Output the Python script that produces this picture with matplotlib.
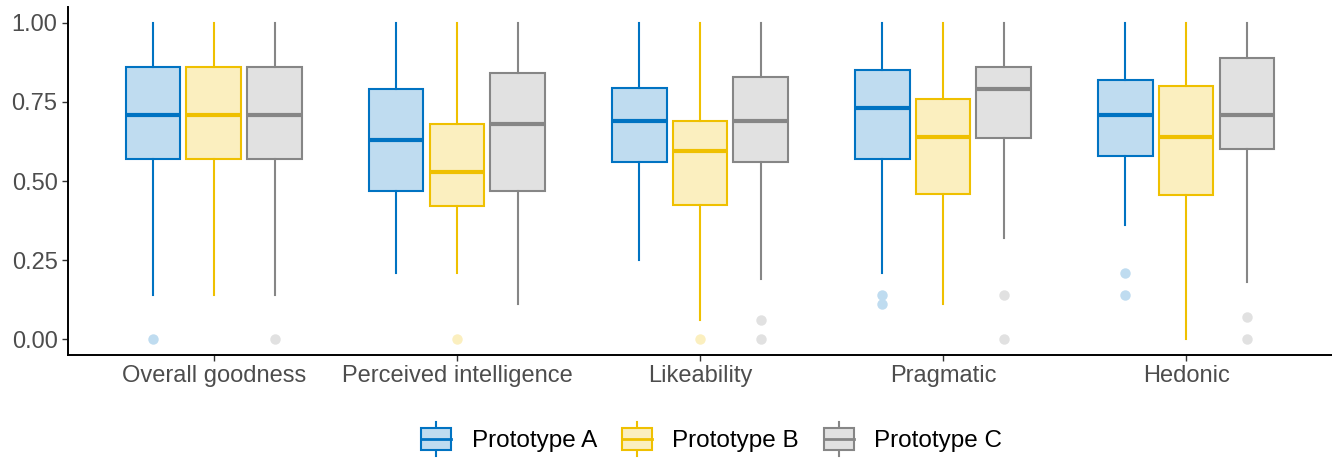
import numpy as np
import matplotlib
matplotlib.use("Agg")
import matplotlib.pyplot as plt
from matplotlib.legend_handler import HandlerBase
from matplotlib.patches import Rectangle
from matplotlib.lines import Line2D

plt.rcParams["font.family"] = ["Liberation Sans", "DejaVu Sans"]

categories = ["Overall goodness", "Perceived intelligence", "Likeability", "Pragmatic", "Hedonic"]
groups = ["Prototype A", "Prototype B", "Prototype C"]

# per group: one value per category
whislo = {
    "Prototype A": [0.14, 0.21, 0.25, 0.21, 0.36],
    "Prototype B": [0.14, 0.21, 0.06, 0.11, 0.00],
    "Prototype C": [0.14, 0.11, 0.19, 0.32, 0.18],
}
q1 = {
    "Prototype A": [0.57, 0.47, 0.56, 0.57, 0.58],
    "Prototype B": [0.57, 0.42, 0.425, 0.46, 0.455],
    "Prototype C": [0.57, 0.47, 0.56, 0.635, 0.60],
}
med = {
    "Prototype A": [0.71, 0.63, 0.69, 0.73, 0.71],
    "Prototype B": [0.71, 0.53, 0.595, 0.64, 0.64],
    "Prototype C": [0.71, 0.68, 0.69, 0.79, 0.71],
}
q3 = {
    "Prototype A": [0.86, 0.79, 0.795, 0.85, 0.82],
    "Prototype B": [0.86, 0.68, 0.69, 0.76, 0.80],
    "Prototype C": [0.86, 0.84, 0.83, 0.86, 0.89],
}
whishi = {
    "Prototype A": [1.0, 1.0, 1.0, 1.0, 1.0],
    "Prototype B": [1.0, 1.0, 1.0, 1.0, 1.0],
    "Prototype C": [1.0, 1.0, 1.0, 1.0, 1.0],
}
outliers = {
    "Prototype A": [[0.0], [], [], [0.14, 0.11], [0.21, 0.14]],
    "Prototype B": [[], [0.0], [0.0], [], []],
    "Prototype C": [[0.0], [], [0.06, 0.0], [0.14, 0.0], [0.07, 0.0]],
}

edge_colors = {"Prototype A": "#0073C2", "Prototype B": "#EFC000", "Prototype C": "#868686"}
fill_colors = {"Prototype A": "#BFDCF0", "Prototype B": "#FBEFBF", "Prototype C": "#E1E1E1"}

fig = plt.figure(figsize=(13.32, 4.59), dpi=100)
ax = fig.add_axes([0.051, 0.2266, 0.949, 0.758])

dodge = 0.25
box_w = 0.225
x = np.arange(1, len(categories) + 1)

for gi, g in enumerate(groups):
    stats = []
    for ci in range(len(categories)):
        stats.append(dict(med=med[g][ci], q1=q1[g][ci], q3=q3[g][ci],
                          whislo=whislo[g][ci], whishi=whishi[g][ci],
                          fliers=outliers[g][ci]))
    pos = x + (gi - 1) * dodge
    ec = edge_colors[g]
    fc = fill_colors[g]
    ax.bxp(stats, positions=pos, widths=box_w, patch_artist=True, showcaps=False,
           boxprops=dict(facecolor=fc, edgecolor=ec, linewidth=1.5),
           medianprops=dict(color=ec, linewidth=3),
           whiskerprops=dict(color=ec, linewidth=1.5),
           flierprops=dict(marker="o", markerfacecolor=fc, markeredgecolor="none",
                           markersize=7.5))

ax.set_xlim(0.4, 5.6)
ax.set_ylim(-0.05, 1.05)
ax.set_xticks(x)
ax.set_xticklabels(categories)
ax.set_yticks([0, 0.25, 0.5, 0.75, 1.0])
ax.set_yticklabels(["0.00", "0.25", "0.50", "0.75", "1.00"])
ax.tick_params(axis="both", labelsize=17, colors="#333333", labelcolor="#4D4D4D",
               length=4, width=1)
ax.spines["top"].set_visible(False)
ax.spines["right"].set_visible(False)
ax.spines["left"].set_linewidth(1.4)
ax.spines["bottom"].set_linewidth(1.4)


class BoxKeyHandler(HandlerBase):
    def __init__(self, ec, fc):
        super().__init__()
        self.ec = ec
        self.fc = fc

    def create_artists(self, legend, orig_handle, xdescent, ydescent,
                       width, height, fontsize, trans):
        bw = width * 0.95
        x0 = (width - bw) / 2 - xdescent
        bh = 16
        y0 = (height - bh) / 2 - ydescent
        cx = width / 2 - xdescent
        wl1 = Line2D([cx, cx], [y0 - 4, y0], color=self.ec, lw=1.5, transform=trans)
        wl2 = Line2D([cx, cx], [y0 + bh, y0 + bh + 4], color=self.ec, lw=1.5, transform=trans)
        rect = Rectangle((x0, y0), bw, bh, facecolor=self.fc, edgecolor=self.ec,
                         lw=1.5, transform=trans)
        ml = Line2D([x0, x0 + bw], [y0 + bh / 2] * 2, color=self.ec, lw=2, transform=trans)
        return [wl1, wl2, rect, ml]


handles = [Rectangle((0, 0), 1, 1) for _ in groups]
handler_map = {h: BoxKeyHandler(edge_colors[g], fill_colors[g]) for h, g in zip(handles, groups)}
fig.legend(handles, groups, handler_map=handler_map, loc="center", ncol=3,
           bbox_to_anchor=(0.534, 0.041), frameon=False, fontsize=17.5,
           handlelength=1.3, handleheight=1.0, columnspacing=1.0, handletextpad=0.8)

fig.savefig("out.png", dpi=100)
